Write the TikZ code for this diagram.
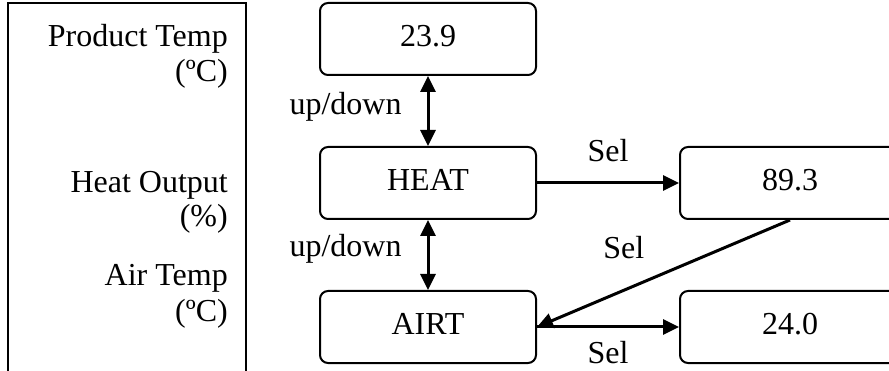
\documentclass[tikz,border=0pt]{standalone}
\usepackage{fontspec}
\setmainfont{Liberation Serif}
\usetikzlibrary{arrows.meta}

\begin{document}
\begin{tikzpicture}[x=1pt,y=-1pt,
    font=\fontsize{32}{38}\selectfont,
    valbox/.style={draw,line width=2pt,rounded corners=8pt,inner sep=0pt,
        minimum width=216pt,minimum height=72pt,text depth=7pt},
    tag/.style={inner sep=0pt},
    link/.style={line width=3pt,-{Triangle[length=16pt,width=15pt]}},
    both/.style={line width=3pt,{Triangle[length=16pt,width=15pt]}-{Triangle[length=16pt,width=15pt]}}]
    \clip (0,0) rectangle (889,371);

    % Left panel
    \draw[line width=2.5pt] (8,380) -- (8,3) -- (246,3) -- (246,380);
    \node[tag,anchor=base east] (prodtxt) at (228,47) {Product Temp};
    \node[tag,anchor=base east] (produnit) at (228,82) {(ºC)};
    \node[tag,anchor=base east] (heattxt) at (228,193) {Heat Output};
    \node[tag,anchor=base east] (heatunit) at (228,227) {(\%)};
    \node[tag,anchor=base east] (airtxt) at (228,286) {Air Temp};
    \node[tag,anchor=base east] (airunit) at (228,322) {(ºC)};

    % Value boxes
    \node[valbox] (prod) at (428,39) {23.9};
    \node[valbox] (heat) at (428,183) {HEAT};
    \node[valbox] (airt) at (428,327) {AIRT};
    \node[valbox,minimum width=220pt] (pct) at (790,183) {89.3};
    \node[valbox,minimum width=220pt] (air) at (790,327) {24.0};

    % up/down
    \draw[both] (prod) -- (heat) node[tag,midway,left=25pt,yshift=4pt] {up/down};
    \draw[both] (heat) -- (airt) node[tag,midway,left=25pt,yshift=6pt] {up/down};

    % Sel
    \draw[link] (heat) -- (pct) node[tag,midway,above=20pt] {Sel};
    \draw[link] (pct.south) -- (airt.east) node[tag,pos=0.657,above=30pt] {Sel};
    \draw[link] (airt.east) -- (air.west) node[tag,midway,below=13pt] {Sel};
\end{tikzpicture}
\end{document}
